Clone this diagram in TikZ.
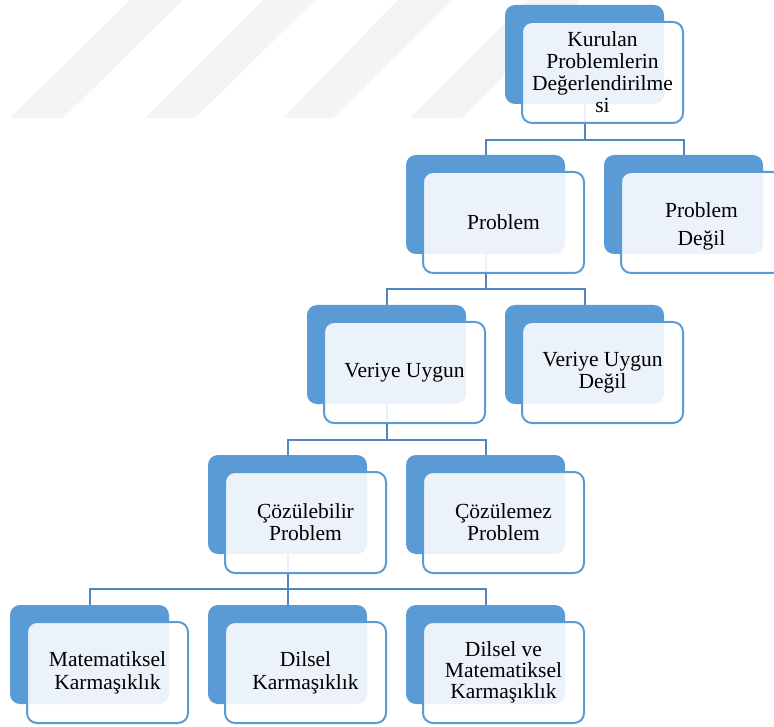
\documentclass[tikz,border=0pt]{standalone}
\usepackage{fontspec}
\setmainfont{Liberation Serif}
\definecolor{boxblue}{HTML}{5B9BD5}
\definecolor{linkblue}{HTML}{4F86C0}
\definecolor{wmgray}{HTML}{F4F4F4}
\begin{document}
\begin{tikzpicture}[x=1pt,y=-1pt,
  backbox/.style={fill=boxblue, rounded corners=10pt, minimum width=159pt, minimum height=99pt, inner sep=0pt},
  frontbox/.style={draw=boxblue, line width=2pt, fill=white, fill opacity=0.88, text opacity=1,
    rounded corners=10pt, minimum width=161pt, minimum height=101pt, inner sep=0pt, align=center,
    font=\fontsize{21.5}{22}\selectfont},
  link/.style={draw=linkblue, line width=2pt}]
\useasboundingbox (0,0) rectangle (774,727);
\clip (0,0) rectangle (774,727);
% faint watermark
\fill[wmgray] (10,118) -- (130,0) -- (183,0) -- (63,118) -- cycle;
\fill[wmgray] (145,118) -- (263,0) -- (315,0) -- (195,118) -- cycle;
\fill[wmgray] (283,118) -- (398,0) -- (453,0) -- (333,118) -- cycle;
\fill[wmgray] (410,118) -- (528,0) -- (580,0) -- (462,118) -- cycle;
% back boxes
\node[backbox] (top-b) at (584.5,54.5) {};
\node[backbox] (prob-b) at (485.5,204.5) {};
\node[backbox] (probd-b) at (683.5,204.5) {};
\node[backbox] (ver-b) at (386.5,354.5) {};
\node[backbox] (verd-b) at (584.5,354.5) {};
\node[backbox] (coz-b) at (287.5,504.5) {};
\node[backbox] (cozd-b) at (485.5,504.5) {};
\node[backbox] (mat-b) at (89.5,654.5) {};
\node[backbox] (dil-b) at (287.5,654.5) {};
\node[backbox] (dm-b) at (485.5,654.5) {};
% bus levels
\coordinate (bus1) at (0,140);
\coordinate (bus2) at (0,289);
\coordinate (bus3) at (0,440);
\coordinate (bus4) at (0,589);
% connectors
\draw[link] (top-b.south) -- (top-b.south |- bus1) -| (prob-b.north);
\draw[link] (top-b.south |- bus1) -| (probd-b.north);
\draw[link] (prob-b.south) -- (prob-b.south |- bus2) -| (ver-b.north);
\draw[link] (prob-b.south |- bus2) -| (verd-b.north);
\draw[link] (ver-b.south) -- (ver-b.south |- bus3) -| (coz-b.north);
\draw[link] (ver-b.south |- bus3) -| (cozd-b.north);
\draw[link] (coz-b.south) -- (coz-b.south |- bus4) -| (mat-b.north);
\draw[link] (coz-b.south |- bus4) -- (dil-b.north);
\draw[link] (coz-b.south |- bus4) -| (dm-b.north);
% front boxes
\node[frontbox] (top) at (602.5,72.5) {Kurulan\\Problemlerin\\Değerlendirilme\\si};
\node[frontbox] (prob) at (503.5,222.5) {Problem};
\node[frontbox, font=\fontsize{21.5}{31}\selectfont, text depth=0pt] (probd) at (701.5,222.5) {\raisebox{-3pt}{\shortstack{Problem\\[9pt]Değil}}};
\node[frontbox] (ver) at (404.5,372.5) {Veriye Uygun};
\node[frontbox] (verd) at (602.5,372.5) {Veriye Uygun\\Değil};
\node[frontbox] (coz) at (305.5,522.5) {Çözülebilir\\Problem};
\node[frontbox] (cozd) at (503.5,522.5) {Çözülemez\\Problem};
\node[frontbox, font=\fontsize{21.5}{23}\selectfont] (mat) at (107.5,672.5) {Matematiksel\\Karmaşıklık};
\node[frontbox, font=\fontsize{21.5}{23}\selectfont] (dil) at (305.5,672.5) {Dilsel\\Karmaşıklık};
\node[frontbox, font=\fontsize{21.5}{21}\selectfont] (dm) at (503.5,672.5) {Dilsel ve\\Matematiksel\\Karmaşıklık};
\end{tikzpicture}
\end{document}
